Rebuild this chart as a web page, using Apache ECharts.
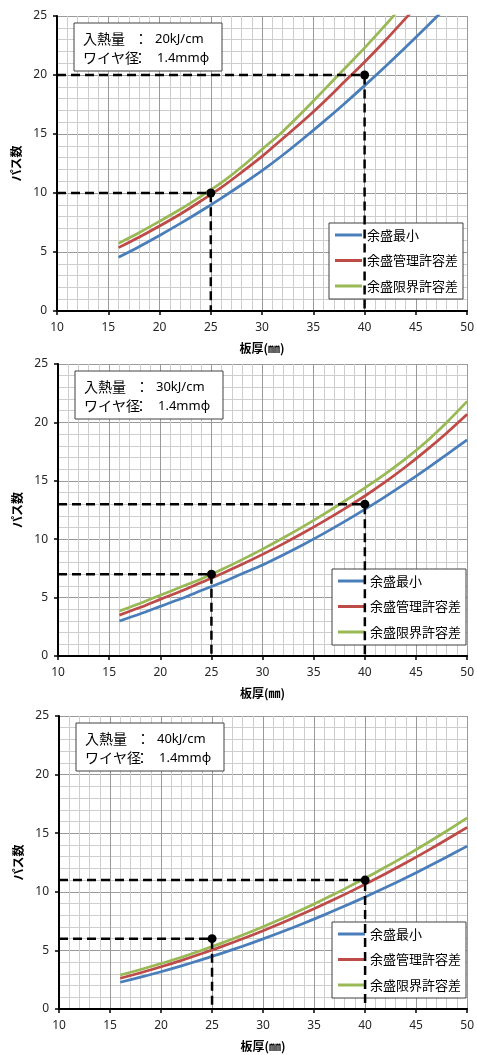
<!DOCTYPE html>
<html>
<head>
<meta charset="utf-8">
<script src="https://cdn.jsdelivr.net/npm/echarts@6/dist/echarts.min.js"></script>
<style>
html,body{margin:0;padding:0;background:#fff;}
#c{width:477px;height:1055px;}
</style>
</head>
<body>
<div id="c"></div>
<script>
// ---- data ----
const thickness = [16,18,20,22,24,26,28,30,32,34,36,38,40,42,44,46,48,50];
const seriesNames = ['余盛最小','余盛管理許容差','余盛限界許容差'];
const heatInputs = ['20kJ/cm','30kJ/cm','40kJ/cm'];
const wireDia = '1.4mmφ';
const xTicks = [10,15,20,25,30,35,40,45,50];
const yTicks = [0,5,10,15,20,25];

// chart 1 (20kJ/cm)
const min20  = [4.55,5.45,6.4,7.4,8.45,9.55,10.7,11.9,13.2,14.6,16.05,17.55,19.1,20.7,22.35,24.05,25.8,27.6];
const ctrl20 = [5.37,6.25,7.2,8.2,9.3,10.45,11.75,13.1,14.6,16.1,17.7,19.4,21.1,22.9,24.8,26.7,28.6,30.5];
const lim20  = [5.73,6.63,7.6,8.6,9.7,10.85,12.2,13.7,15.2,16.9,18.7,20.5,22.3,24.2,26.2,28.2,30.2,32.3];
// chart 2 (30kJ/cm)
const min30  = [3.0,3.6,4.25,4.9,5.6,6.3,7.05,7.8,8.65,9.55,10.5,11.5,12.55,13.65,14.8,16.0,17.25,18.5];
const ctrl30 = [3.5,4.15,4.85,5.55,6.3,7.05,7.85,8.7,9.6,10.55,11.55,12.6,13.7,14.9,16.2,17.6,19.1,20.7];
const lim30  = [3.85,4.5,5.2,5.9,6.6,7.4,8.25,9.15,10.1,11.1,12.15,13.25,14.4,15.6,16.9,18.35,20.0,21.8];
// chart 3 (40kJ/cm)
const min40  = [2.28,2.72,3.18,3.68,4.21,4.77,5.36,5.98,6.63,7.32,8.03,8.78,9.55,10.36,11.2,12.07,12.97,13.9];
const ctrl40 = [2.62,3.09,3.60,4.15,4.73,5.34,5.99,6.68,7.40,8.16,8.95,9.78,10.64,11.54,12.48,13.45,14.46,15.5];
const lim40  = [2.9,3.37,3.88,4.42,5.01,5.64,6.31,7.02,7.76,8.55,9.38,10.25,11.16,12.11,13.09,14.12,15.19,16.3];

// guide points [thickness, passes]
const guide20 = [[25,10],[40,20]];
const guide30 = [[25,7],[40,13]];
const guide40 = [[25,6],[40,11]];

const curves = [[min20,ctrl20,lim20],[min30,ctrl30,lim30],[min40,ctrl40,lim40]];
const guides = [guide20,guide30,guide40];

// ---- layout ----
const grids = [
  {left:57, top:16,  width:413, height:295},
  {left:58, top:364, width:413, height:292},
  {left:59, top:716, width:413, height:293}
];
const legendPos = [{left:329, top:223},{left:332, top:569},{left:332, top:922}];
const boxPos = [{x:74,y:23},{x:75,y:371},{x:76,y:723}];
const colors = ['#4a7ebb','#be4b48','#98b954'];
const tickFont = 'Noto Sans';
const jpFont = 'Noto Sans CJK JP';

const option = {
  animation:false,
  backgroundColor:'#fff',
  grid: grids.map(g => Object.assign({containLabel:false}, g)),
  xAxis: grids.map((g,i) => ({
    type:'value', gridIndex:i, min:xTicks[0], max:xTicks[xTicks.length-1], interval:5,
    name:'板厚(㎜)', nameLocation:'middle', nameGap:31,
    nameTextStyle:{fontFamily:jpFont, fontWeight:'bold', fontSize:12, color:'#000'},
    axisLine:{show:true, onZero:false, lineStyle:{color:'#000', width:2}},
    axisTick:{show:true, length:4, lineStyle:{color:'#000', width:1.5}},
    axisLabel:{fontFamily:tickFont, fontSize:12, color:'#262626', margin:11},
    splitLine:{show:true, lineStyle:{color:'#9a9a9a', width:1}},
    minorTick:{show:false, splitNumber:5},
    minorSplitLine:{show:true, lineStyle:{color:'#cdcdcd', width:1}}
  })),
  yAxis: grids.map((g,i) => ({
    type:'value', gridIndex:i, min:yTicks[0], max:yTicks[yTicks.length-1], interval:5,
    name:'パス数', nameLocation:'middle', nameGap:33, nameRotate:90,
    nameTextStyle:{fontFamily:jpFont, fontWeight:'bold', fontSize:12, color:'#000'},
    axisLine:{show:true, onZero:false, lineStyle:{color:'#000', width:2}},
    axisTick:{show:true, length:4, lineStyle:{color:'#000', width:1.5}},
    axisLabel:{fontFamily:tickFont, fontSize:12, color:'#262626', margin:10},
    splitLine:{show:true, lineStyle:{color:'#9a9a9a', width:1}},
    minorTick:{show:false, splitNumber:5},
    minorSplitLine:{show:true, lineStyle:{color:'#cdcdcd', width:1}}
  })),
  legend: legendPos.map(p => ({
    left:p.left, top:p.top, orient:'vertical', data:seriesNames,
    icon:'rect', itemWidth:27, itemHeight:3, itemGap:11.5,
    padding:[5,5,6,6], borderColor:'#404040', borderWidth:1, backgroundColor:'#fff',
    textStyle:{fontFamily:jpFont, fontSize:13, color:'#000', lineHeight:14},
    selectedMode:false
  })),
  series: [],
  graphic: []
};

curves.forEach((set, gi) => {
  set.forEach((vals, si) => {
    option.series.push({
      type:'line', name:seriesNames[si], xAxisIndex:gi, yAxisIndex:gi,
      data: thickness.map((t,k) => [t, vals[k]]),
      showSymbol:false, symbol:'none', smooth:0.3, clip:true,
      lineStyle:{color:colors[si], width:2.75}, itemStyle:{color:colors[si]}, z:3
    });
  });
  guides[gi].forEach(pt => {
    option.series.push({
      type:'line', xAxisIndex:gi, yAxisIndex:gi,
      data:[
        {value:[xTicks[0], pt[1]], symbol:'none'},
        {value:[pt[0], pt[1]], symbol:'circle', symbolSize:9},
        {value:[pt[0], yTicks[0]], symbol:'none'}
      ],
      showSymbol:true, clip:false,
      lineStyle:{color:'#000', width:2.5, type:[9,5]},
      itemStyle:{color:'#000'}, z:4, silent:true
    });
  });
});

boxPos.forEach((b, gi) => {
  option.graphic.push(
    {type:'rect', shape:{x:b.x, y:b.y, width:148, height:48}, style:{fill:'#fff', stroke:'#404040', lineWidth:1}, z:10},
    {type:'text', x:b.x+9, y:b.y+16, style:{text:'入熱量', font:'14px "'+jpFont+'"', fill:'#000', align:'left', verticalAlign:'middle'}, z:11},
    {type:'text', x:b.x+67, y:b.y+16, style:{text:'：', font:'14px "'+jpFont+'"', fill:'#000', align:'center', verticalAlign:'middle'}, z:11},
    {type:'text', x:b.x+81, y:b.y+16, style:{text:heatInputs[gi], font:'13px "'+tickFont+'"', fill:'#000', align:'left', verticalAlign:'middle'}, z:11},
    {type:'text', x:b.x+9, y:b.y+35, style:{text:'ワイヤ径', font:'14px "'+jpFont+'"', fill:'#000', align:'left', verticalAlign:'middle'}, z:11},
    {type:'text', x:b.x+66, y:b.y+35, style:{text:'：', font:'14px "'+jpFont+'"', fill:'#000', align:'center', verticalAlign:'middle'}, z:11},
    {type:'text', x:b.x+83, y:b.y+35, style:{text:wireDia, font:'13px "'+tickFont+'"', fill:'#000', align:'left', verticalAlign:'middle'}, z:11}
  );
});

const chart = echarts.init(document.getElementById('c'), null, {renderer:'canvas'});
chart.setOption(option);
</script>
</body>
</html>
